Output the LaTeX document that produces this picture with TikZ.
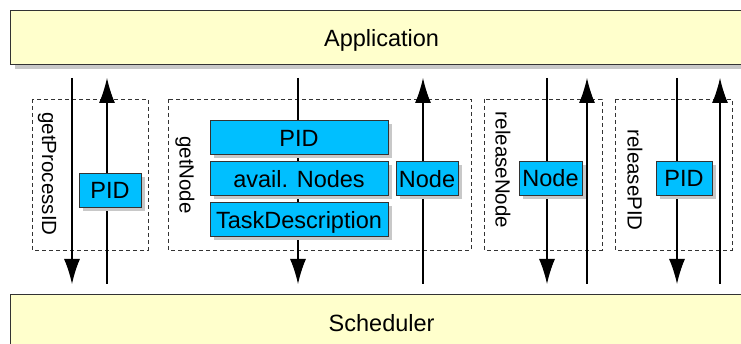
\documentclass[tikz,border=0pt]{standalone}
\usepackage{fontspec}
\setmainfont{Liberation Sans}
\usetikzlibrary{arrows.meta, positioning, shadows}
\definecolor{LayerYellow}{RGB}{255,255,204}
\definecolor{MsgCyan}{RGB}{0,191,255}
\definecolor{ShadowGray}{RGB}{200,200,200}

\begin{document}
\begin{tikzpicture}[x=1pt, y=-1pt]
	\fontsize{23.5}{28}\selectfont
	\tikzstyle{layer} = [
	draw=black!80,
	line width=1.2pt,
	fill=LayerYellow,
	minimum width=742pt,
	text height=17pt, text depth=0pt,
	drop shadow={shadow xshift=4pt, shadow yshift=-4pt, fill=ShadowGray, opacity=1}
	]
	\tikzstyle{msg} = [
	draw=black!80,
	line width=1pt,
	fill=MsgCyan,
	inner sep=0pt,
	minimum height=34pt,
	text height=17pt, text depth=0pt,
	drop shadow={shadow xshift=3.5pt, shadow yshift=-3.5pt, fill=ShadowGray, opacity=1}
	]
	\tikzstyle{call} = [dashed, dash pattern=on 4pt off 3pt, line width=.8pt, draw=black!80]
	\tikzstyle{flow} = [line width=1.2pt, -{Latex[length=25pt, width=16pt]}]
	\tikzstyle{callname} = [rotate=-90, inner sep=0pt, font=\fontsize{20.5}{24}\selectfont]

	\clip (0,0) rectangle (741,344);

	\node[layer, minimum height=54pt, anchor=north west] (app) at (10,10) {Application};
	\node[layer, minimum height=56pt, anchor=north west] (sched) at (10,294) {Scheduler};

	% calls
	\draw[call] (32,99) rectangle (148,250);
	\draw[call] (168,99) rectangle (471,250);
	\draw[call] (484,99) rectangle (602,250);
	\draw[call] (615,99) rectangle (732,250);

	\node[callname] (getpid) at (47,174) {getProcessID};
	\node[callname] (getnode) at (185,175) {getNode};
	\node[callname] (relnode) at (503,170) {releaseNode};
	\node[callname] (relpid) at (635,180) {releasePID};

	\coordinate (gpiT) at (72,78);   \coordinate (gpiB) at (72,284);
	\coordinate (gpoT) at (107,78);  \coordinate (gpoB) at (107,284);
	\coordinate (gniT) at (298,78);  \coordinate (gniB) at (298,284);
	\coordinate (gnoT) at (423,78);  \coordinate (gnoB) at (423,284);
	\coordinate (rniT) at (547,78);  \coordinate (rniB) at (547,284);
	\coordinate (rnoT) at (587,78);  \coordinate (rnoB) at (587,284);
	\coordinate (rpiT) at (677,78);  \coordinate (rpiB) at (677,284);
	\coordinate (rpoT) at (720,78);  \coordinate (rpoB) at (720,284);

	\draw[flow] (gpiT) -- (gpiB);
	\draw[flow] (gpoB) -- (gpoT);
	\draw[flow] (gniT) -- (gniB);
	\draw[flow] (gnoB) -- (gnoT);
	\draw[flow] (rniT) -- (rniB);
	\draw[flow] (rnoB) -- (rnoT);
	\draw[flow] (rpiT) -- (rpiB);
	\draw[flow] (rpoB) -- (rpoT);

	% parameters
	\node[msg, minimum width=62pt] (pidA) at (110,190.5) {PID};
	\node[msg, minimum width=178pt] (pidB) at (299,138) {PID};
	\node[msg, minimum width=178pt, below=6pt of pidB] (avail) {avail. Nodes};
	\node[msg, minimum width=178pt, below=6pt of avail] (task) {TaskDescription};
	\node[msg, minimum width=62pt, right=7pt of avail] (nodeB) {Node};
	\node[msg, minimum width=63pt] (nodeC) at (550.5,178.5) {Node};
	\node[msg, minimum width=56pt] (pidC) at (684,178.5) {PID};
\end{tikzpicture}
\end{document}
